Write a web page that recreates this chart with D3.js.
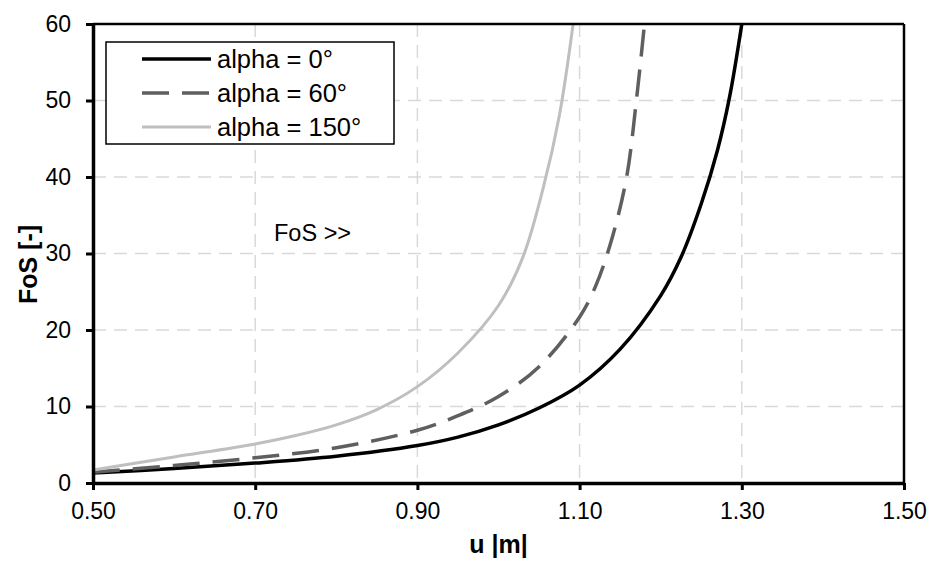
<!DOCTYPE html>
<html>
<head>
<meta charset="utf-8">
<script src="https://cdn.jsdelivr.net/npm/d3@7"></script>
<style>
  body { margin: 0; background: #fff; }
  text { font-family: "Liberation Sans", Arial, sans-serif; }
</style>
</head>
<body>
<div id="chart"></div>
<script>
// Series values
var u_alpha0 = [0.50, 0.60, 0.70, 0.80, 0.90, 0.95, 1.00, 1.05, 1.10, 1.15, 1.20, 1.225, 1.25, 1.27, 1.285, 1.30];
var fos_alpha0 = [1.3, 1.9, 2.6, 3.5, 4.9, 6.0, 7.6, 9.8, 12.8, 17.5, 24.5, 29.5, 36.5, 43.5, 50.5, 60];

var u_alpha60 = [0.50, 0.60, 0.70, 0.80, 0.90, 0.95, 1.00, 1.05, 1.10, 1.12, 1.14, 1.158, 1.17, 1.18];
var fos_alpha60 = [1.4, 2.3, 3.3, 4.6, 6.9, 8.8, 11.3, 15.2, 21.7, 25.8, 32, 40, 50, 60];

var u_alpha150 = [0.50, 0.60, 0.70, 0.75, 0.80, 0.85, 0.90, 0.95, 1.00, 1.03, 1.055, 1.075, 1.092];
var fos_alpha150 = [1.7, 3.4, 5.1, 6.2, 7.6, 9.6, 12.6, 17.0, 23.2, 29.5, 38.5, 48, 60];

var series_names = ["alpha = 0°", "alpha = 60°", "alpha = 150°"];
var x_ticks = [0.50, 0.70, 0.90, 1.10, 1.30, 1.50];
var y_ticks = [0, 10, 20, 30, 40, 50, 60];

var width = 928, height = 561;
var margin = { left: 93, right: 24, top: 24, bottom: 78 };
var plot_w = width - margin.left - margin.right;
var plot_h = height - margin.top - margin.bottom;

var svg = d3.select("#chart").append("svg")
    .attr("width", width)
    .attr("height", height);

var g = svg.append("g")
    .attr("transform", "translate(" + margin.left + "," + margin.top + ")");

var x = d3.scaleLinear().domain([0.5, 1.5]).range([0, plot_w]);
var y = d3.scaleLinear().domain([0, 60]).range([plot_h, 0]);

// Dashed grid
g.append("g").selectAll("line").data(x_ticks.slice(1, -1)).enter().append("line")
    .attr("x1", function(d) { return x(d); })
    .attr("x2", function(d) { return x(d); })
    .attr("y1", 0).attr("y2", plot_h)
    .attr("stroke", "#d9d9d9").attr("stroke-width", 1.5)
    .attr("stroke-dasharray", "13,8");

g.append("g").selectAll("line").data(y_ticks.slice(1, -1)).enter().append("line")
    .attr("x1", 0).attr("x2", plot_w)
    .attr("y1", function(d) { return y(d); })
    .attr("y2", function(d) { return y(d); })
    .attr("stroke", "#d9d9d9").attr("stroke-width", 1.5)
    .attr("stroke-dasharray", "13,8");

// Curves
var series = [
    { u: u_alpha0, f: fos_alpha0, color: "#000000", dash: null, w: 3.5 },
    { u: u_alpha60, f: fos_alpha60, color: "#5f5f5f", dash: "27,13", w: 3.5 },
    { u: u_alpha150, f: fos_alpha150, color: "#bfbfbf", dash: null, w: 3 }
];

var line = d3.line()
    .x(function(d) { return x(d[0]); })
    .y(function(d) { return y(d[1]); })
    .curve(d3.curveCatmullRom.alpha(0.5));

series.forEach(function(s) {
    var pts = d3.zip(s.u, s.f);
    g.append("path")
        .attr("d", line(pts))
        .attr("fill", "none")
        .attr("stroke", s.color)
        .attr("stroke-width", s.w)
        .attr("stroke-dasharray", s.dash);
});

// Frame: top and right border
g.append("line").attr("x1", 0).attr("x2", plot_w).attr("y1", 0).attr("y2", 0)
    .attr("stroke", "#000").attr("stroke-width", 2.5);
g.append("line").attr("x1", plot_w).attr("x2", plot_w).attr("y1", 0).attr("y2", plot_h)
    .attr("stroke", "#000").attr("stroke-width", 2.5);

// Axes
var x_axis = g.append("g")
    .attr("transform", "translate(0," + plot_h + ")")
    .call(d3.axisBottom(x).tickValues(x_ticks).tickFormat(d3.format(".2f")).tickSize(7).tickSizeOuter(0));
var y_axis = g.append("g")
    .call(d3.axisLeft(y).tickValues(y_ticks).tickSize(7).tickSizeOuter(0));

[x_axis, y_axis].forEach(function(a) {
    a.select(".domain").attr("stroke", "#000").attr("stroke-width", 3.5);
    a.selectAll(".tick line").attr("stroke", "#000").attr("stroke-width", 3);
    a.selectAll(".tick text")
        .attr("fill", "#000")
        .style("font-size", "23px")
        .style("font-family", "'Liberation Sans', Arial, sans-serif");
});
x_axis.selectAll(".tick text").attr("y", 20);
y_axis.selectAll(".tick text").attr("x", -22);

// Axis titles
svg.append("text")
    .attr("x", margin.left + plot_w / 2)
    .attr("y", 553)
    .attr("text-anchor", "middle")
    .style("font-size", "25px")
    .style("font-weight", "bold")
    .text("u |m|");

svg.append("text")
    .attr("transform", "translate(37," + (margin.top + plot_h / 2 + 11) + ") rotate(-90)")
    .attr("text-anchor", "middle")
    .style("font-size", "25px")
    .style("font-weight", "bold")
    .text("FoS [-]");

// Annotation
g.append("text")
    .attr("x", x(0.7232))
    .attr("y", y(31.6))
    .style("font-size", "23.5px")
    .text("FoS >>");

// Legend
var legend = g.append("g").attr("transform", "translate(13,18)");
legend.append("rect")
    .attr("width", 288).attr("height", 102)
    .attr("fill", "#fff").attr("stroke", "#000").attr("stroke-width", 1.5);

series.forEach(function(s, i) {
    var ly = 17 + i * 34;
    legend.append("line")
        .attr("x1", 36).attr("x2", 105)
        .attr("y1", ly).attr("y2", ly)
        .attr("stroke", s.color).attr("stroke-width", s.w)
        .attr("stroke-dasharray", s.dash);
    legend.append("text")
        .attr("x", 111).attr("y", ly)
        .attr("dy", "0.36em")
        .style("font-size", "25.5px")
        .text(series_names[i]);
});
</script>
</body>
</html>
